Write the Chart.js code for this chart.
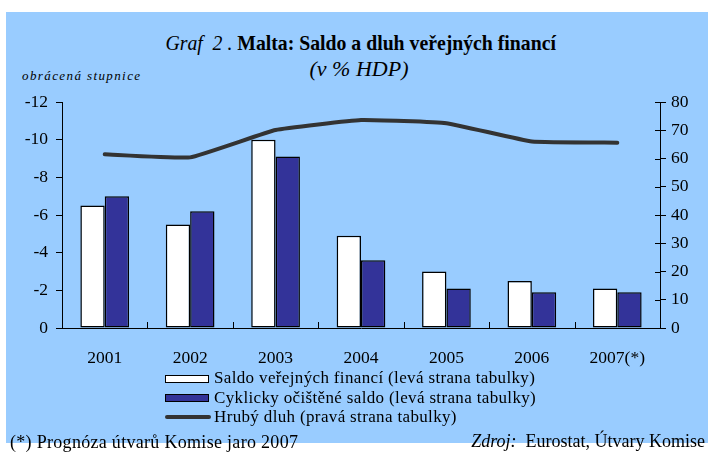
<!DOCTYPE html>
<html>
<head>
<meta charset="utf-8">
<script src="https://cdn.jsdelivr.net/npm/chart.js@4/dist/chart.umd.min.js"></script>
<style>
  body { margin: 0; width: 708px; height: 457px; background: #fff; position: relative; overflow: hidden;
         font-family: "Liberation Serif", "Times New Roman", serif; color: #000; }
  #bg { position: absolute; left: 6px; top: 12px; width: 702px; height: 431px; background: #99ccff; }
  #graf { position: absolute; left: 0; top: 0; }
  .txt { position: absolute; white-space: nowrap; }
  #title { left: 0; width: 722px; top: 31px; text-align: center; font-size: 21px; }
  #title span.in { display: inline-block; transform: scaleX(0.94); }
  #sub { left: 0; width: 718px; top: 56px; text-align: center; font-size: 22px; font-style: italic; }
  #obr { left: 22px; top: 68px; font-size: 13px; font-style: italic; letter-spacing: 1.4px; }
  .leg { left: 214px; font-size: 17px; letter-spacing: 0.35px; }
  .box { position: absolute; left: 165px; width: 42px; height: 6px; border: 1.5px solid #000; }
  #foot1 { left: 10px; top: 432px; font-size: 18px; letter-spacing: 0.3px; }
  #foot2 { right: 3px; top: 431px; font-size: 18px; }
</style>
</head>
<body>
<div id="bg"></div>
<div class="txt" id="title"><span class="in"><i>Graf&nbsp; 2 .</i> <b>Malta: Saldo a dluh veřejných financí</b></span></div>
<div class="txt" id="sub">(v % HDP)</div>
<div class="txt" id="obr">obrácená stupnice</div>
<canvas id="graf" width="708" height="457"></canvas>
<div class="box" style="top:375px;background:#fff"></div>
<div class="txt leg" style="top:368px">Saldo veřejných financí (levá strana tabulky)</div>
<div class="box" style="top:394px;background:#333399"></div>
<div class="txt leg" style="top:388px">Cyklicky očištěné saldo (levá strana tabulky)</div>
<div style="position:absolute;left:165px;top:415px;width:46px;height:4px;border-radius:2px;background:#333"></div>
<div class="txt leg" style="top:407px">Hrubý dluh (pravá strana tabulky)</div>
<div class="txt" id="foot1">(*) Prognóza útvarů Komise jaro 2007</div>
<div class="txt" id="foot2"><i>Zdroj:</i>&nbsp; Eurostat, Útvary Komise</div>
<script>
const roky = ['2001', '2002', '2003', '2004', '2005', '2006', '2007(*)'];
const saldo = [-6.5, -5.5, -10.0, -4.9, -3.0, -2.5, -2.1];
const cyklicky = [-7.0, -6.2, -9.1, -3.6, -2.1, -1.9, -1.9];
const dluh = [61.5, 60.4, 70.1, 73.6, 72.5, 66.0, 65.6];

const font = { family: '"Liberation Serif", "Times New Roman", serif', size: 17.5 };

// extra tick marks: x ticks between categories pointing up, right axis ticks inward
const tickPlugin = {
  id: 'ticks2',
  afterDraw(chart) {
    const ctx = chart.ctx;
    const x = chart.scales.x, y1 = chart.scales.y1;
    ctx.save();
    ctx.strokeStyle = '#000';
    ctx.lineWidth = 1;
    ctx.beginPath();
    for (let i = 0; i < roky.length - 1; i++) {
      const px = Math.round((x.getPixelForValue(i) + x.getPixelForValue(i + 1)) / 2) + 0.5;
      ctx.moveTo(px, x.top);
      ctx.lineTo(px, x.top - 6);
    }
    y1.ticks.forEach(t => {
      const py = Math.round(y1.getPixelForValue(t.value)) + 0.5;
      ctx.moveTo(y1.left, py);
      ctx.lineTo(y1.left - 5, py);
    });
    ctx.stroke();
    ctx.restore();
  }
};

new Chart(document.getElementById('graf').getContext('2d'), {
  data: {
    labels: roky,
    datasets: [
      {
        type: 'line',
        label: 'Hrubý dluh (pravá strana tabulky)',
        data: dluh,
        yAxisID: 'y1',
        borderColor: '#333333',
        borderWidth: 4,
        borderCapStyle: 'round',
        pointRadius: 0,
        tension: 0.1
      },
      {
        type: 'bar',
        label: 'Saldo veřejných financí (levá strana tabulky)',
        data: saldo,
        yAxisID: 'y',
        backgroundColor: '#ffffff',
        borderColor: '#000000',
        borderWidth: 1.5,
        borderSkipped: false,
        categoryPercentage: 0.57,
        barPercentage: 1
      },
      {
        type: 'bar',
        label: 'Cyklicky očištěné saldo (levá strana tabulky)',
        data: cyklicky,
        yAxisID: 'y',
        backgroundColor: '#333399',
        borderColor: '#000000',
        borderWidth: 1.5,
        borderSkipped: false,
        categoryPercentage: 0.57,
        barPercentage: 1
      }
    ]
  },
  options: {
    responsive: false,
    animation: false,
    layout: { padding: { left: 0, right: 0, top: 102, bottom: 89 } },
    plugins: { legend: { display: false }, tooltip: { enabled: false } },
    scales: {
      x: {
        grid: { display: false },
        border: { display: true, color: '#000', width: 1 },
        ticks: { color: '#000', font: font, padding: 12, maxRotation: 0 },
        afterFit(scale) { scale.height = 40; }
      },
      y: {
        position: 'left',
        reverse: true,
        min: -12,
        max: 0,
        ticks: { stepSize: 2, color: '#000', font: font, padding: 8 },
        grid: { drawOnChartArea: false, drawTicks: true, tickLength: 6, color: '#000' },
        border: { display: true, color: '#000', width: 1 },
        afterFit(scale) { scale.width = 62; }
      },
      y1: {
        position: 'right',
        min: 0,
        max: 80,
        ticks: { stepSize: 10, color: '#000', font: font, padding: 5 },
        grid: { drawOnChartArea: false, drawTicks: true, tickLength: 6, color: '#000' },
        border: { display: true, color: '#000', width: 1 },
        afterFit(scale) { scale.width = 48; }
      }
    }
  },
  plugins: [tickPlugin]
});
</script>
</body>
</html>
